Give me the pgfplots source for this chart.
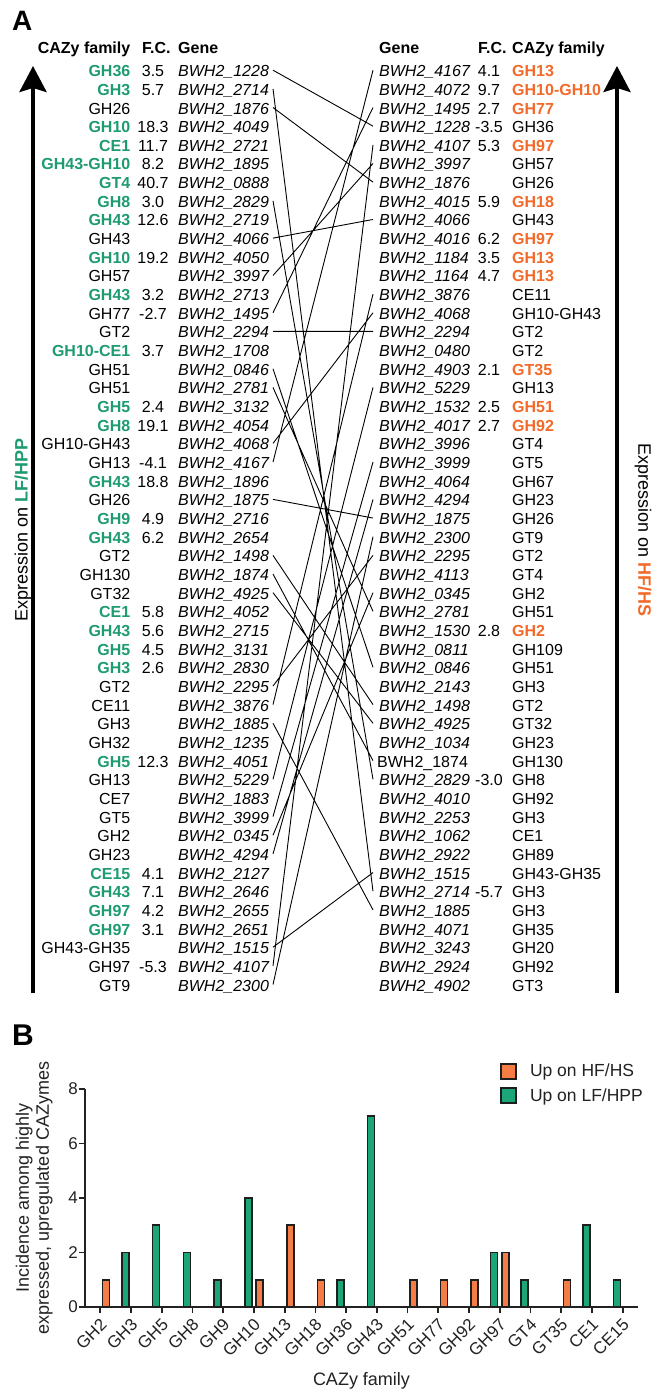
\documentclass[border=0pt]{standalone}
\usepackage{fontspec}
\setmainfont{Liberation Sans}
\usepackage{pgfplots}
\pgfplotsset{compat=1.18}
\usepackage{pgfplotstable}
\usetikzlibrary{arrows.meta}

\definecolor{txtgreen}{HTML}{1E9B70}
\definecolor{txtorange}{HTML}{F26A2A}
\definecolor{bargreen}{HTML}{1BA67A}
\definecolor{barorange}{HTML}{F57D45}
\definecolor{ink}{HTML}{222222}
\definecolor{barline}{HTML}{1E1E1E}

\newcommand\bodyfont{\fontsize{16}{19}\selectfont}
\newcommand\rowbase[1]{76.7+(#1-1)*18.66}

\tikzset{
  txt/.style={inner sep=0pt, font=\bodyfont},
  famg/.style={inner sep=0pt, text=txtgreen, font=\bodyfont\bfseries},
  famo/.style={inner sep=0pt, text=txtorange, font=\bodyfont\bfseries},
  famn/.style={inner sep=0pt, text=black, font=\bodyfont},
}

% left table: row, family, style, F.C., gene
\newcommand\Lrow[5]{%
  \node[fam#3, anchor=base east] at (axis cs:130.5,{\rowbase{#1}}) {#2};
  \node[txt, anchor=base] at (axis cs:153,{\rowbase{#1}}) {#4};
  \node[txt, font=\bodyfont\itshape, anchor=base west] at (axis cs:178,{\rowbase{#1}}) {BWH2\_#5};
}
% right table: row, gene, F.C., family, style
\newcommand\Rrow[5]{%
  \node[txt, font=\bodyfont\itshape, anchor=base west] at (axis cs:379,{\rowbase{#1}}) {BWH2\_#2};
  \node[txt, anchor=base] at (axis cs:489,{\rowbase{#1}}) {#3};
  \node[fam#5, anchor=base west] at (axis cs:512,{\rowbase{#1}}) {#4};
}
\newcommand\RrowU[5]{%
  \node[txt, anchor=base west] at (axis cs:377,{\rowbase{#1}}) {BWH2\_#2};
  \node[txt, anchor=base] at (axis cs:489,{\rowbase{#1}}) {#3};
  \node[fam#5, anchor=base west] at (axis cs:512,{\rowbase{#1}}) {#4};
}

% links between the two gene lists: x, row
\pgfplotstableread{
x r
273 1
373 4
nan 0
273 2
373 45
nan 0
273 3
373 7
nan 0
273 8
373 39
nan 0
273 10
373 9
nan 0
273 12
373 6
nan 0
273 14
373 3
nan 0
273 15
373 15
nan 0
273 17
373 33
nan 0
273 18
373 30
nan 0
273 21
373 14
nan 0
273 22
373 1
nan 0
273 24
373 25
nan 0
273 27
373 35
nan 0
273 28
373 38
nan 0
273 29
373 36
nan 0
273 34
373 27
nan 0
273 35
373 13
nan 0
273 36
373 46
nan 0
273 39
373 18
nan 0
273 41
373 22
nan 0
273 42
373 29
nan 0
273 43
373 24
nan 0
273 48
373 44
nan 0
273 49
373 5
nan 0
273 50
373 26
}\linktable

% panel B counts (category index, count)
\pgfplotstableread{
x y
0 1
5 1
6 3
7 1
10 1
11 1
12 1
13 2
15 1
}\hfhs
\pgfplotstableread{
x y
1 2
2 3
3 2
4 1
5 4
8 1
9 7
13 2
14 1
16 3
17 1
}\lfhpp

\begin{document}
\begin{tikzpicture}
% ---------------- panel A ----------------
\begin{axis}[
  at={(0pt,391pt)}, anchor=south west,
  x=1pt, y=1pt, xmin=0, xmax=653, ymin=0, ymax=1000,
  y dir=reverse, enlargelimits=false, hide axis, clip=false,
]
\addplot[black, line width=0.9pt, mark=none, unbounded coords=jump]
  table[x=x, y expr={70.2+(\thisrow{r}-1)*18.66}] {\linktable};

\node[inner sep=0pt, anchor=base west, font=\fontsize{28}{30}\selectfont\bfseries] at (axis cs:12,31) {A};
\node[inner sep=0pt, anchor=base west, font=\fontsize{30}{32}\selectfont\bfseries] at (axis cs:12,1045) {B};

\node[txt, font=\bodyfont\bfseries, anchor=base east] at (axis cs:130.5,54) {CAZy family};
\node[txt, font=\bodyfont\bfseries, anchor=base west] at (axis cs:142,54) {F.C.};
\node[txt, font=\bodyfont\bfseries, anchor=base west] at (axis cs:178,54) {Gene};
\node[txt, font=\bodyfont\bfseries, anchor=base west] at (axis cs:379,54) {Gene};
\node[txt, font=\bodyfont\bfseries, anchor=base west] at (axis cs:478,54) {F.C.};
\node[txt, font=\bodyfont\bfseries, anchor=base west] at (axis cs:512,54) {CAZy family};

\draw[line width=3.8pt, -{Stealth[length=26pt, width=27pt, inset=4pt]}] (axis cs:33,993) -- (axis cs:33,66);
\draw[line width=3.8pt, -{Stealth[length=26pt, width=27pt, inset=4pt]}] (axis cs:617,993) -- (axis cs:617,66);
\node[inner sep=0pt, font=\fontsize{18}{20}\selectfont, rotate=90] at (axis cs:23,530) {Expression on \textcolor{txtgreen}{\bfseries LF/HPP}};
\node[inner sep=0pt, font=\fontsize{18}{20}\selectfont, rotate=-90] at (axis cs:643,530) {Expression on \textcolor{txtorange}{\bfseries HF/HS}};

\Lrow{1}{GH36}{g}{3.5}{1228}
\Lrow{2}{GH3}{g}{5.7}{2714}
\Lrow{3}{GH26}{n}{}{1876}
\Lrow{4}{GH10}{g}{18.3}{4049}
\Lrow{5}{CE1}{g}{11.7}{2721}
\Lrow{6}{GH43-GH10}{g}{8.2}{1895}
\Lrow{7}{GT4}{g}{40.7}{0888}
\Lrow{8}{GH8}{g}{3.0}{2829}
\Lrow{9}{GH43}{g}{12.6}{2719}
\Lrow{10}{GH43}{n}{}{4066}
\Lrow{11}{GH10}{g}{19.2}{4050}
\Lrow{12}{GH57}{n}{}{3997}
\Lrow{13}{GH43}{g}{3.2}{2713}
\Lrow{14}{GH77}{n}{-2.7}{1495}
\Lrow{15}{GT2}{n}{}{2294}
\Lrow{16}{GH10-CE1}{g}{3.7}{1708}
\Lrow{17}{GH51}{n}{}{0846}
\Lrow{18}{GH51}{n}{}{2781}
\Lrow{19}{GH5}{g}{2.4}{3132}
\Lrow{20}{GH8}{g}{19.1}{4054}
\Lrow{21}{GH10-GH43}{n}{}{4068}
\Lrow{22}{GH13}{n}{-4.1}{4167}
\Lrow{23}{GH43}{g}{18.8}{1896}
\Lrow{24}{GH26}{n}{}{1875}
\Lrow{25}{GH9}{g}{4.9}{2716}
\Lrow{26}{GH43}{g}{6.2}{2654}
\Lrow{27}{GT2}{n}{}{1498}
\Lrow{28}{GH130}{n}{}{1874}
\Lrow{29}{GT32}{n}{}{4925}
\Lrow{30}{CE1}{g}{5.8}{4052}
\Lrow{31}{GH43}{g}{5.6}{2715}
\Lrow{32}{GH5}{g}{4.5}{3131}
\Lrow{33}{GH3}{g}{2.6}{2830}
\Lrow{34}{GT2}{n}{}{2295}
\Lrow{35}{CE11}{n}{}{3876}
\Lrow{36}{GH3}{n}{}{1885}
\Lrow{37}{GH32}{n}{}{1235}
\Lrow{38}{GH5}{g}{12.3}{4051}
\Lrow{39}{GH13}{n}{}{5229}
\Lrow{40}{CE7}{n}{}{1883}
\Lrow{41}{GT5}{n}{}{3999}
\Lrow{42}{GH2}{n}{}{0345}
\Lrow{43}{GH23}{n}{}{4294}
\Lrow{44}{CE15}{g}{4.1}{2127}
\Lrow{45}{GH43}{g}{7.1}{2646}
\Lrow{46}{GH97}{g}{4.2}{2655}
\Lrow{47}{GH97}{g}{3.1}{2651}
\Lrow{48}{GH43-GH35}{n}{}{1515}
\Lrow{49}{GH97}{n}{-5.3}{4107}
\Lrow{50}{GT9}{n}{}{2300}

\Rrow{1}{4167}{4.1}{GH13}{o}
\Rrow{2}{4072}{9.7}{GH10-GH10}{o}
\Rrow{3}{1495}{2.7}{GH77}{o}
\Rrow{4}{1228}{-3.5}{GH36}{n}
\Rrow{5}{4107}{5.3}{GH97}{o}
\Rrow{6}{3997}{}{GH57}{n}
\Rrow{7}{1876}{}{GH26}{n}
\Rrow{8}{4015}{5.9}{GH18}{o}
\Rrow{9}{4066}{}{GH43}{n}
\Rrow{10}{4016}{6.2}{GH97}{o}
\Rrow{11}{1184}{3.5}{GH13}{o}
\Rrow{12}{1164}{4.7}{GH13}{o}
\Rrow{13}{3876}{}{CE11}{n}
\Rrow{14}{4068}{}{GH10-GH43}{n}
\Rrow{15}{2294}{}{GT2}{n}
\Rrow{16}{0480}{}{GT2}{n}
\Rrow{17}{4903}{2.1}{GT35}{o}
\Rrow{18}{5229}{}{GH13}{n}
\Rrow{19}{1532}{2.5}{GH51}{o}
\Rrow{20}{4017}{2.7}{GH92}{o}
\Rrow{21}{3996}{}{GT4}{n}
\Rrow{22}{3999}{}{GT5}{n}
\Rrow{23}{4064}{}{GH67}{n}
\Rrow{24}{4294}{}{GH23}{n}
\Rrow{25}{1875}{}{GH26}{n}
\Rrow{26}{2300}{}{GT9}{n}
\Rrow{27}{2295}{}{GT2}{n}
\Rrow{28}{4113}{}{GT4}{n}
\Rrow{29}{0345}{}{GH2}{n}
\Rrow{30}{2781}{}{GH51}{n}
\Rrow{31}{1530}{2.8}{GH2}{o}
\Rrow{32}{0811}{}{GH109}{n}
\Rrow{33}{0846}{}{GH51}{n}
\Rrow{34}{2143}{}{GH3}{n}
\Rrow{35}{1498}{}{GT2}{n}
\Rrow{36}{4925}{}{GT32}{n}
\Rrow{37}{1034}{}{GH23}{n}
\RrowU{38}{1874}{}{GH130}{n}
\Rrow{39}{2829}{-3.0}{GH8}{n}
\Rrow{40}{4010}{}{GH92}{n}
\Rrow{41}{2253}{}{GH3}{n}
\Rrow{42}{1062}{}{CE1}{n}
\Rrow{43}{2922}{}{GH89}{n}
\Rrow{44}{1515}{}{GH43-GH35}{n}
\Rrow{45}{2714}{-5.7}{GH3}{n}
\Rrow{46}{1885}{}{GH3}{n}
\Rrow{47}{4071}{}{GH35}{n}
\Rrow{48}{3243}{}{GH20}{n}
\Rrow{49}{2924}{}{GH92}{n}
\Rrow{50}{4902}{}{GT3}{n}
\end{axis}

% ---------------- panel B ----------------
\begin{axis}[
  at={(85pt,84pt)}, anchor=south west,
  width=553pt, height=218pt, scale only axis,
  ybar, bar width=7pt,
  xmin=-0.5, xmax=17.5, ymin=0, ymax=8, enlargelimits=false,
  axis lines=left, axis line style={line width=1.8pt, -, color=ink},
  xtick={0,...,17},
  xticklabels={GH2,GH3,GH5,GH8,GH9,GH10,GH13,GH18,GH36,GH43,GH51,GH77,GH92,GH97,GT4,GT35,CE1,CE15},
  ytick={0,2,4,6,8},
  tick align=outside, major tick length=6pt,
  tick style={line width=1.8pt, color=ink},
  /pgf/number format/assume math mode=true,
  ticklabel style={font=\fontsize{17}{20}\selectfont, text=ink},
  xticklabel style={xshift=-1pt, yshift=-3pt, rotate=45, anchor=north east, inner sep=1pt},
  yticklabel style={anchor=east, inner sep=1pt},
  ylabel={Incidence among highly\\expressed, upregulated CAZymes},
  ylabel style={align=center, font=\fontsize{18}{20}\selectfont, text=ink,
    at={(axis description cs:-0.058,0.5)}, anchor=south, inner sep=0pt},
  xlabel={CAZy family},
  xlabel style={font=\fontsize{18}{20}\selectfont, text=ink,
    at={(axis description cs:0.5,-0.358)}, anchor=base, inner sep=0pt},
  legend style={at={(0.7505,1.124)}, anchor=north west, draw=none, fill=none,
    inner sep=0pt, row sep=6pt, font=\fontsize{17.5}{20}\selectfont, text=ink},
  legend cell align=left,
  legend image code/.code={\draw[#1] (0pt,-7.5pt) rectangle (15pt,7.5pt);
    \path[draw=none, fill=none] (0pt,0pt) -- (27pt,0pt);},
]
\addplot[fill=barorange, draw=barline, line width=1.6pt, bar shift=5.7pt] table[x=x, y=y] {\hfhs};
\addlegendentry{Up on HF/HS}
\addplot[fill=bargreen, draw=barline, line width=1.6pt, bar shift=-5.7pt] table[x=x, y=y] {\lfhpp};
\addlegendentry{Up on LF/HPP}
\end{axis}
\pgfresetboundingbox
\useasboundingbox (0pt,0pt) rectangle (653pt,1391pt);
\end{tikzpicture}
\end{document}
